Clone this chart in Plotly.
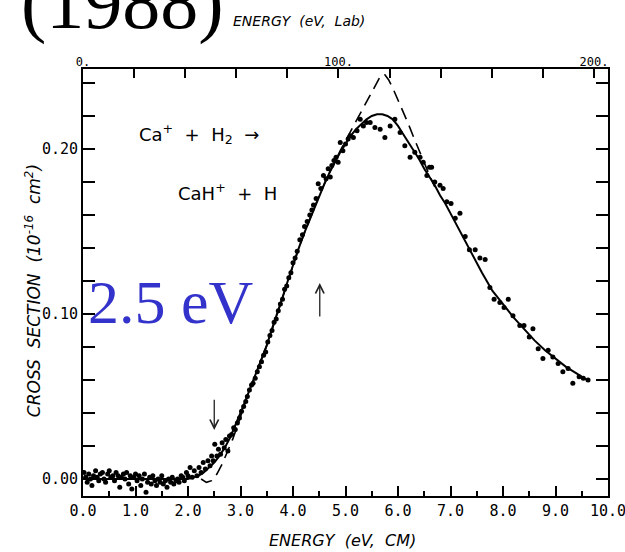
import plotly.graph_objects as go

# ---------------- data ----------------
dot_E = [0.02,0.05,0.08,0.11,0.14,0.17,0.20,0.24,0.27,0.30,0.33,0.37,0.40,0.43,0.47,0.50,0.53,0.57,0.60,0.63,
         0.67,0.70,0.73,0.77,0.80,0.83,0.87,0.90,0.93,0.97,1.00,1.03,1.07,1.10,1.13,1.17,1.20,1.23,1.27,1.30,
         1.33,1.37,1.40,1.43,1.47,1.50,1.53,1.57,1.60,1.63,1.67,1.70,1.73,1.77,1.80,1.83,1.87,1.90,1.93,1.97,2.00,
         2.04,2.08,2.12,2.17,2.21,2.25,2.29,2.33,2.38,2.42,2.45,2.48,2.51,2.55,2.58,2.62,2.65,2.69,2.72,2.76,
         2.79,2.83,2.87,2.90,2.94,2.98,3.02,3.06,3.10,3.13,3.17,3.21,3.24,3.28,3.32,3.36,3.40,3.44,3.48,3.52,
         3.56,3.60,3.64,3.68,3.72,3.76,3.80,3.84,3.88,3.92,3.96,4.00,4.04,4.08,4.13,4.18,4.22,4.27,4.32,4.36,
         4.39,4.44,4.48,4.53,4.58,4.63,4.67,4.71,4.74,4.78,4.82,4.86,4.90,4.95,5.00,5.05,5.09,5.15,5.22,5.28,
         5.34,5.40,5.47,5.56,5.66,5.75,5.85,5.94,6.04,6.13,6.23,6.32,6.42,6.48,6.55,6.60,6.64,6.70,6.80,6.86,
         6.93,7.01,7.09,7.18,7.28,7.36,7.47,7.56,7.66,7.75,7.83,7.94,8.02,8.10,8.19,8.32,8.40,8.50,8.57,8.67,
         8.76,8.86,8.95,9.05,9.14,9.24,9.33,9.45,9.53,9.62]
dot_sigma = [0.004,0.001,-0.002,0.003,0.000,-0.004,0.002,0.005,0.001,-0.001,0.003,0.004,0.000,-0.002,0.003,0.005,0.001,0.002,-0.001,0.004,
             0.002,-0.005,0.001,0.003,0.000,0.004,-0.003,0.002,-0.006,0.001,0.003,-0.001,0.002,-0.004,0.000,0.003,-0.008,-0.002,0.001,-0.003,
             0.002,-0.001,-0.004,0.000,-0.002,0.002,-0.003,-0.001,-0.005,0.000,-0.002,0.001,-0.003,-0.001,0.000,-0.002,0.002,0.001,-0.001,0.004,0.002,
             0.007,0.001,0.005,0.002,0.007,0.004,0.010,0.006,0.011,0.008,0.014,0.011,0.021,0.014,0.018,0.015,0.022,0.019,0.024,0.017,
             0.026,0.027,0.031,0.030,0.034,0.037,0.041,0.044,0.047,0.050,0.054,0.057,0.058,0.061,0.065,0.068,0.071,0.075,0.077,0.083,
             0.087,0.090,0.095,0.097,0.102,0.106,0.109,0.115,0.117,0.122,0.125,0.131,0.134,0.138,0.145,0.148,0.153,0.156,0.160,0.163,
             0.166,0.170,0.179,0.176,0.184,0.182,0.188,0.183,0.190,0.193,0.195,0.192,0.204,0.199,0.203,0.206,0.208,0.207,0.211,0.218,
             0.214,0.216,0.216,0.213,0.212,0.207,0.214,0.218,0.210,0.202,0.195,0.198,0.195,0.192,0.184,0.189,0.189,0.180,0.178,0.176,
             0.168,0.167,0.158,0.161,0.147,0.139,0.139,0.134,0.133,0.116,0.109,0.107,0.104,0.109,0.099,0.093,0.093,0.086,0.091,0.079,
             0.073,0.078,0.074,0.070,0.065,0.067,0.058,0.062,0.061,0.060]

fit_E = [0.0,0.5,1.0,1.5,2.0,
         2.1,2.2,2.3,2.4,2.5,2.6,2.7,2.8,2.9,3.0,
         3.1,3.2,3.3,3.4,3.5,3.6,3.7,3.8,3.9,4.0,
         4.1,4.2,4.3,4.4,4.5,4.6,4.7,4.8,4.9,5.0,
         5.1,5.2,5.3,5.4,5.5,5.6,5.7,5.8,5.9,6.0,
         6.1,6.2,6.3,6.4,6.5,6.6,6.7,6.8,6.9,7.0,
         7.2,7.4,7.6,7.8,8.0,8.2,8.4,8.6,8.8,9.0,9.2,9.4,9.6]
fit_sigma = [0.0,0.0,0.0,0.0,0.0,
             0.001,0.002,0.004,0.007,0.010,0.014,0.019,0.025,0.032,0.040,
             0.048,0.056,0.064,0.072,0.081,0.091,0.100,0.110,0.120,0.130,
             0.139,0.148,0.156,0.164,0.172,0.179,0.186,0.192,0.198,0.203,
             0.208,0.212,0.215,0.218,0.220,0.221,0.221,0.220,0.218,0.214,
             0.209,0.204,0.199,0.194,0.188,0.183,0.178,0.172,0.167,0.161,
             0.149,0.137,0.125,0.114,0.106,0.098,0.091,0.084,0.078,0.073,0.068,0.064,0.060]

model_E = [2.25,2.35,2.45,2.55,2.65,2.75,2.85,2.95,3.05,3.15,3.3,3.5,3.7,3.9,4.1,4.3,4.5,4.7,4.8,4.9,
           5.0,5.1,5.2,5.3,5.4,5.5,5.6,5.68,5.75,5.82,5.9,6.0,6.1,6.2,6.3,6.4,6.5,6.6,6.7]
model_sigma = [0.0,-0.002,-0.001,0.003,0.009,0.016,0.024,0.033,0.043,0.052,0.064,0.081,0.100,0.120,0.139,0.156,0.172,0.186,0.193,0.199,
               0.205,0.211,0.217,0.223,0.229,0.235,0.241,0.245,0.245,0.242,0.237,0.230,0.222,0.215,0.207,0.199,0.192,0.184,0.177]

x_ticks = [0,1,2,3,4,5,6,7,8,9,10]
x_ticklabels = ["0.0","1.0","2.0","3.0","4.0","5.0","6.0","7.0","8.0","9.0","10.0"]
lab_ticks = [0,100,200]
lab_ticklabels = ["0.","100.","200."]
y_ticks = [0.0,0.1,0.2]
y_ticklabels = ["0.00","0.10","0.20"]

assert len(dot_E) == len(dot_sigma)
assert len(fit_E) == len(fit_sigma)
assert len(model_E) == len(model_sigma)

MONO = "DejaVu Sans Mono"

fig = go.Figure()
fig.add_trace(go.Scatter(x=fit_E, y=fit_sigma, mode="lines",
                         line=dict(color="black", width=2), showlegend=False))
fig.add_trace(go.Scatter(x=model_E, y=model_sigma, mode="lines",
                         line=dict(color="black", width=1.6, dash="12px,7px"), showlegend=False))
fig.add_trace(go.Scatter(x=dot_E, y=dot_sigma, mode="markers",
                         marker=dict(color="black", size=5), showlegend=False))
# invisible trace for the lab-energy axis
fig.add_trace(go.Scatter(x=[0, 200], y=[None, None], xaxis="x2", mode="markers",
                         showlegend=False, hoverinfo="skip"))

fig.update_layout(
    width=625, height=552, autosize=False,
    margin=dict(l=83, r=17, t=69, b=56, autoexpand=False),
    paper_bgcolor="white", plot_bgcolor="white",
    xaxis=dict(range=[0, 10], tickmode="array", tickvals=x_ticks, ticktext=x_ticklabels,
               ticks="inside", ticklen=10, tickwidth=1.5, tickcolor="black",
               minor=dict(ticks="inside", dtick=0.5, tick0=0, ticklen=5, tickwidth=1.5, tickcolor="black"),
               showline=True, linecolor="black", linewidth=1.8, mirror=True,
               showgrid=False, zeroline=False, automargin=False, ticklabeloverflow="allow",
               tickfont=dict(family=MONO, size=15, color="black")),
    xaxis2=dict(range=[0, 205.5], overlaying="x", side="top", tickmode="array",
                tickvals=lab_ticks, ticktext=lab_ticklabels,
                ticks="inside", ticklen=9, tickwidth=1.5, tickcolor="black",
                minor=dict(ticks="inside", dtick=20, tick0=0, ticklen=9, tickwidth=1.5, tickcolor="black"),
                showline=False, showgrid=False, zeroline=False, automargin=False,
                ticklabeloverflow="allow",
                tickfont=dict(family=MONO, size=12, color="black")),
    yaxis=dict(range=[-0.0103, 0.2485], tickmode="array", tickvals=y_ticks, ticktext=y_ticklabels,
               ticks="inside", ticklen=12, tickwidth=1.5, tickcolor="black",
               minor=dict(ticks="inside", dtick=0.02, tick0=0, ticklen=6, tickwidth=1.5, tickcolor="black"),
               showline=True, linecolor="black", linewidth=1.8, mirror="allticks",
               showgrid=False, zeroline=False, automargin=False,
               tickfont=dict(family=MONO, size=15, color="black")),
)

ann = []
ann.append(dict(text="(1988)", x=0.076, y=1.155, xref="paper", yref="paper", showarrow=False,
                xanchor="center", yanchor="middle",
                font=dict(family="Liberation Serif", size=76, color="black")))
ann.append(dict(text="<i>ENERGY  (eV,  Lab)</i>", x=0.412, y=1.113, xref="paper", yref="paper",
                showarrow=False, xanchor="center", yanchor="middle",
                font=dict(family="DejaVu Sans", size=14, color="black")))
ann.append(dict(text="<i>ENERGY  (eV,  CM)</i>", x=0.495, y=-0.105, xref="paper", yref="paper",
                showarrow=False, xanchor="center", yanchor="middle",
                font=dict(family="DejaVu Sans", size=16, color="black")))
ann.append(dict(text="<i>CROSS  SECTION  (10<sup>-16</sup>  cm<sup>2</sup>)</i>", x=-0.095, y=0.48,
                xref="paper", yref="paper", textangle=-90, showarrow=False,
                xanchor="center", yanchor="middle",
                font=dict(family="DejaVu Sans", size=17, color="black")))
ann.append(dict(text="Ca<sup>+</sup>\u00a0\u00a0+\u00a0\u00a0H<sub>2</sub>\u00a0\u00a0\u2192",
                x=1.03, y=0.209, xref="x", yref="y", showarrow=False,
                xanchor="left", yanchor="middle",
                font=dict(family="DejaVu Sans", size=18, color="black")))
ann.append(dict(text="CaH<sup>+</sup>\u00a0\u00a0+\u00a0\u00a0H",
                x=1.78, y=0.174, xref="x", yref="y", showarrow=False,
                xanchor="left", yanchor="middle",
                font=dict(family="DejaVu Sans", size=18, color="black")))
ann.append(dict(text="2.5 eV", x=1.68, y=0.107, xref="x", yref="y", showarrow=False,
                xanchor="center", yanchor="middle",
                font=dict(family="Liberation Serif", size=62, color="rgb(51,51,204)")))
# arrows
ann.append(dict(text="", x=2.5, y=0.0297, ax=2.5, ay=0.049, xref="x", yref="y",
                axref="x", ayref="y", showarrow=True, arrowhead=5, arrowsize=1.3,
                arrowwidth=1.3, arrowcolor="#222"))
ann.append(dict(text="", x=4.51, y=0.1188, ax=4.51, ay=0.0976, xref="x", yref="y",
                axref="x", ayref="y", showarrow=True, arrowhead=5, arrowsize=1.3,
                arrowwidth=1.3, arrowcolor="#222"))
fig.update_layout(annotations=ann)

fig.write_html("out.html",
               config={"displayModeBar": False, "responsive": False},
               post_script="document.body.style.margin='0';document.body.style.padding='0';"
                           "document.documentElement.style.overflow='hidden';")
